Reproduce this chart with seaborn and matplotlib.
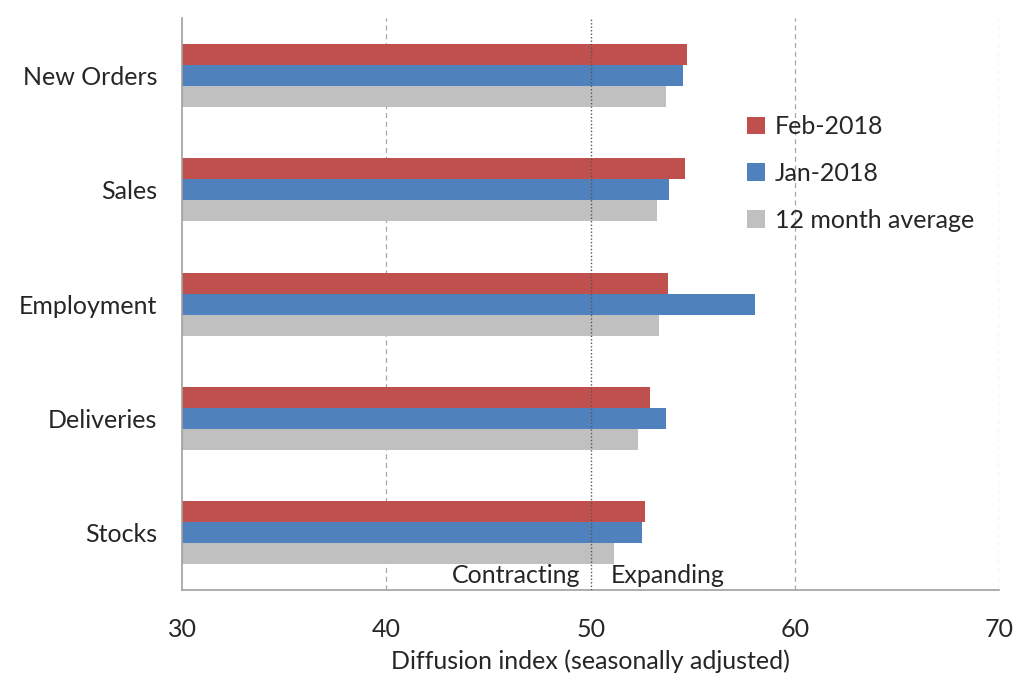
import pandas as pd
import numpy as np
import matplotlib
matplotlib.use("Agg")
import matplotlib.pyplot as plt
import seaborn as sns

# data
categories = ["New Orders", "Sales", "Employment", "Deliveries", "Stocks"]
series = ["Feb-2018", "Jan-2018", "12 month average"]
feb_2018 = [54.73, 54.60, 53.80, 52.90, 52.64]
jan_2018 = [54.50, 53.83, 58.02, 53.68, 52.50]
avg_12m = [53.67, 53.24, 53.33, 52.31, 51.14]
colors = ["#C0504D", "#4F81BD", "#C0C0C0"]
x_ticks = [30, 40, 50, 60, 70]

df = pd.DataFrame({
    "category": categories * 3,
    "series": [series[0]] * 5 + [series[1]] * 5 + [series[2]] * 5,
    "value": feb_2018 + jan_2018 + avg_12m,
})

sns.set_style("white")
plt.rcParams["font.family"] = ["Lato", "DejaVu Sans"]

fig = plt.figure(figsize=(10.23, 6.99), dpi=100)
ax = fig.add_axes([0.178, 0.156, 0.799, 0.818])

sns.barplot(data=df, y="category", x="value", hue="series", order=categories,
            hue_order=series, palette=colors, orient="h", width=0.55,
            saturation=1, linewidth=0, ax=ax, legend=True)

ax.set_xlim(30, 70)
ax.set_ylim(4.5, -0.5)
ax.set_xticks(x_ticks)
ax.set_xticklabels([str(t) for t in x_ticks], fontsize=18)
ax.tick_params(axis="x", which="major", length=6, color="#A0A0A0", direction="out", pad=14)
ax.tick_params(axis="y", which="major", length=0, labelsize=18, pad=18)
ax.set_yticks(np.arange(-0.5, 5.0, 1.0), minor=True)
ax.tick_params(axis="y", which="minor", length=6, color="#A0A0A0", direction="out")

for x in [40, 60, 70]:
    ax.axvline(x, color="#A6A6A6", linestyle=(0, (4, 3)), linewidth=0.9, zorder=0)
ax.axvline(50, color="#555555", linestyle=(0, (1, 1.5)), linewidth=1.0, zorder=3)

for side in ["top", "right"]:
    ax.spines[side].set_visible(False)
for side in ["left", "bottom"]:
    ax.spines[side].set_color("#A0A0A0")
    ax.spines[side].set_linewidth(1.2)

ax.text(49.5, 4.47, "Contracting", ha="right", va="bottom", fontsize=18)
ax.text(51.0, 4.47, "Expanding", ha="left", va="bottom", fontsize=18)

ax.set_ylabel("")
ax.set_xlabel("Diffusion index (seasonally adjusted)", fontsize=18, labelpad=6)

ax.legend(loc="upper left", bbox_to_anchor=(0.664, 0.87), frameon=False,
          fontsize=18, handlelength=0.7, handleheight=0.7, labelspacing=0.95,
          handletextpad=0.4)

fig.savefig("out.png", dpi=100)
